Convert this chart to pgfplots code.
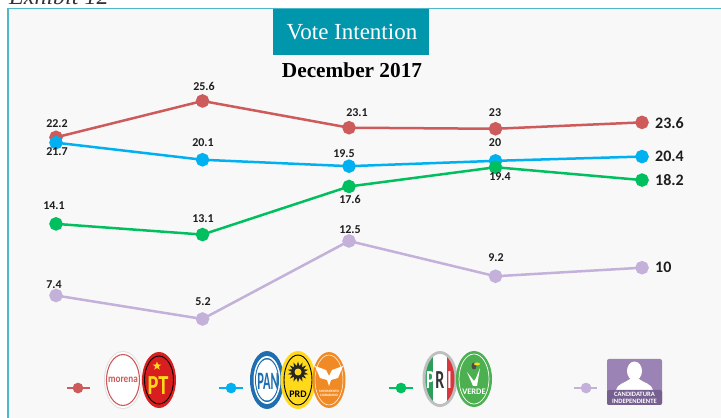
\documentclass[border=0pt]{standalone}
\usepackage{fontspec}
\setmainfont{Carlito}
\newfontfamily\serif{Liberation Serif}
\usepackage{pgfplots}
\pgfplotsset{compat=1.18}
\usetikzlibrary{shapes.geometric}
\definecolor{teal}{HTML}{0097AD}
\definecolor{edgec}{HTML}{4DB8C8}
\definecolor{bgc}{HTML}{F8F8F8}
\definecolor{redc}{HTML}{CD5B5B}
\definecolor{bluec}{HTML}{00B0F0}
\definecolor{greenc}{HTML}{00BF5F}
\definecolor{lilacc}{HTML}{C3B1DA}
\definecolor{txtc}{HTML}{1E1E1E}
\definecolor{ptred}{HTML}{D81E1E}
\definecolor{panb}{HTML}{1F6FB0}
\definecolor{prdy}{HTML}{FFD91A}
\definecolor{mco}{HTML}{F08A24}
\definecolor{prig}{HTML}{2E9E5B}
\definecolor{prir}{HTML}{D9363E}
\definecolor{verde}{HTML}{4CAF50}
\definecolor{indep}{HTML}{9B84B5}
\definecolor{indepd}{HTML}{76608F}
\begin{document}
\begin{tikzpicture}
  \clip (0,0) rectangle (721pt,418pt);
  % background, everything outside the axis in reference pixels
  \begin{scope}[x=1pt,y=-1pt,shift={(0,418pt)}]
    \fill[bgc] (8,8) rectangle (721,418);
    \draw[edgec,line width=1.4pt] (8,418) -- (8,8.5) -- (721,8.5);
    \node[anchor=base west,inner sep=0pt,text=black!80,font=\serif\itshape\fontsize{24}{24}\selectfont] at (9,5) {Exhibit 12};
    \fill[teal] (273,9) rectangle (429,55);
  \end{scope}
  \begin{axis}[
    at={(0,0)}, anchor=south west,
    scale only axis, width=721pt, height=418pt,
    xmin=-0.3823, xmax=4.539, ymin=-4.064, ymax=35.05,
    hide axis, clip=false,
    every axis plot/.append style={line width=2.5pt, mark=*, mark size=5.5pt},
  ]
    \addplot[redc, mark options={fill=redc}] coordinates {(0,22.2) (1,25.6) (2,23.1) (3,23) (4,23.6)};
    \addplot[bluec, mark options={fill=bluec}] coordinates {(0,21.7) (1,20.1) (2,19.5) (3,20) (4,20.4)};
    \addplot[greenc, mark options={fill=greenc}] coordinates {(0,14.1) (1,13.1) (2,17.6) (3,19.4) (4,18.2)};
    \addplot[lilacc, mark options={fill=lilacc}] coordinates {(0,7.4) (1,5.2) (2,12.5) (3,9.2) (4,10)};
    % legend keys
    \addplot[redc, line width=1.2pt, mark=none] coordinates {(0.075,-1.26) (0.232,-1.26)};
    \addplot[bluec, line width=1.2pt, mark=none] coordinates {(1.113,-1.26) (1.277,-1.26)};
    \addplot[greenc, line width=1.2pt, mark=none] coordinates {(2.273,-1.26) (2.437,-1.26)};
    \addplot[lilacc, line width=1.2pt, mark=none] coordinates {(3.536,-1.26) (3.693,-1.26)};
    \addplot[redc, only marks, mark size=4pt] coordinates {(0.150,-1.26)};
    \addplot[bluec, only marks, mark size=4pt] coordinates {(1.195,-1.26)};
    \addplot[greenc, only marks, mark size=4pt] coordinates {(2.355,-1.26)};
    \addplot[lilacc, only marks, mark size=4pt] coordinates {(3.618,-1.26)};
  \end{axis}
  \begin{scope}[x=1pt,y=-1pt,shift={(0,418pt)},
      lab/.style={text=txtc,inner sep=0pt,font=\bfseries\fontsize{12}{12}\selectfont},
      big/.style={text=txtc,inner sep=0pt,anchor=west,font=\bfseries\fontsize{16}{16}\selectfont}]
    \node[text=white,font=\serif\fontsize{23}{23}\selectfont] at (352,32) {Vote Intention};
    \node[text=black,font=\serif\bfseries\fontsize{21.3}{21.3}\selectfont] at (352,70) {December 2017};
    % data labels
    \node[lab] at (57,124) {22.2};
    \node[lab] at (57,152) {21.7};
    \node[lab] at (204,86) {25.6};
    \node[lab] at (203,143) {20.1};
    \node[lab] at (357,113) {23.1};
    \node[lab] at (344,154) {19.5};
    \node[lab] at (495,113) {23};
    \node[lab] at (495,143) {20};
    \node[lab] at (500,177) {19.4};
    \node[lab] at (54,206) {14.1};
    \node[lab] at (203,219) {13.1};
    \node[lab] at (350,199) {17.6};
    \node[lab] at (350,230) {12.5};
    \node[lab] at (54,285) {7.4};
    \node[lab] at (203,302) {5.2};
    \node[lab] at (496,258) {9.2};
    \node[big] at (655,123) {23.6};
    \node[big] at (655,156) {20.4};
    \node[big] at (655,180) {18.2};
    \node[big] at (655,267) {10};
    % morena
    \fill[black!12] (123,380) ellipse [x radius=19, y radius=29];
    \fill[white] (123,380) ellipse [x radius=18, y radius=28];
    \draw[redc,line width=1.1pt] (123,380) ellipse [x radius=16.5, y radius=25.5];
    \node[text=redc,inner sep=0pt,font=\bfseries\fontsize{10}{10}\selectfont] at (123,380) {\scalebox{0.92}[1.1]{morena}};
    % PT
    \fill[ptred] (159,380) ellipse [x radius=17, y radius=28];
    \draw[black,line width=0.9pt] (159,380) ellipse [x radius=14.5, y radius=24];
    \node[star,star points=5,star point ratio=2.4,fill=prdy,inner sep=0pt,minimum size=9pt] at (157,366) {};
    \node[text=prdy,inner sep=0pt,font=\bfseries\fontsize{24}{24}\selectfont] at (158,386) {\scalebox{0.85}[1.15]{PT}};
    % PAN
    \fill[panb] (267,380) ellipse [x radius=17, y radius=29];
    \fill[white] (267,380) ellipse [x radius=13.5, y radius=24];
    \fill[panb] (267,380) ellipse [x radius=12, y radius=22];
    \fill[white] (267,380) ellipse [x radius=11, y radius=20.5];
    \node[text=panb,inner sep=0pt,font=\bfseries\fontsize{20}{20}\selectfont] at (268,381) {\scalebox{0.62}[1.25]{PAN}};
    % PRD
    \fill[prdy] (298,380) ellipse [x radius=17.5, y radius=29];
    \draw[black,line width=0.9pt] (298,380) ellipse [x radius=14, y radius=25];
    \node[star,star points=14,star point ratio=1.7,fill=black!85,inner sep=0pt,minimum size=21pt] at (298,372) {};
    \fill[prdy] (298,372) circle (3.5);
    \node[text=black,inner sep=0pt,font=\bfseries\fontsize{10}{10}\selectfont] at (298,394) {PRD};
    % MC
    \fill[mco] (329,380) ellipse [x radius=16.5, y radius=28];
    \draw[white,line width=0.5pt] (329,380) ellipse [x radius=14, y radius=25];
    \fill[white] (315,366) -- (326,370) -- (329,376) -- (332,370) -- (343,366) -- (338,378) -- (331,380) -- (329,386) -- (327,380) -- (320,378) -- cycle;
    \node[text=white,inner sep=0pt,align=center,font=\bfseries\fontsize{3.4}{4}\selectfont] at (329,393) {MOVIMIENTO\\CIUDADANO};
    % PRI
    \fill[black!25] (440,379) ellipse [x radius=17.5, y radius=28];
    \begin{scope}
      \clip (440,379) ellipse [x radius=14.5, y radius=25];
      \fill[prig] (425,350) rectangle (433,410);
      \fill[white] (433,350) rectangle (447,410);
      \fill[prir] (447,350) rectangle (456,410);
    \end{scope}
    \node[text=white,inner sep=0pt,font=\bfseries\fontsize{20}{20}\selectfont] at (430.5,380) {\scalebox{0.8}[1.3]{P}};
    \node[text=black!80,inner sep=0pt,font=\bfseries\fontsize{20}{20}\selectfont] at (440,380) {\scalebox{0.8}[1.3]{R}};
    \node[text=white,inner sep=0pt,font=\bfseries\fontsize{20}{20}\selectfont] at (449.5,380) {\scalebox{0.8}[1.3]{I}};
    % VERDE
    \fill[verde] (474,379) ellipse [x radius=18, y radius=28];
    \draw[white,line width=0.7pt] (474,379) ellipse [x radius=15, y radius=25];
    \fill[white] (467,372) -- (473,386) -- (477,386) -- (480,368) -- (476,378) -- (474,381) -- cycle;
    \fill[black!70] (474,366) ellipse [x radius=2.5, y radius=3.5];
    \fill[prdy] (477,364) ellipse [x radius=3, y radius=1.5];
    \node[text=white,inner sep=0pt,font=\bfseries\fontsize{8.5}{8.5}\selectfont] at (474,392) {VERDE};
    % independent candidate
    \fill[indep,rounded corners=2pt] (607,359) rectangle (662,405);
    \fill[white] (634.5,371) ellipse [x radius=7.5, y radius=9.5];
    \fill[white] (616,390) .. controls (617,384) and (625,383) .. (630,379) -- (639,379) .. controls (644,383) and (652,384) .. (653,390) -- cycle;
    \fill[indepd,rounded corners=2pt] (607,390) rectangle (662,405);
    \node[text=white,inner sep=0pt,align=center,font=\bfseries\fontsize{6.6}{7}\selectfont] at (634.5,397.5) {CANDIDATURA\\INDEPENDIENTE};
  \end{scope}
\end{tikzpicture}
\end{document}
